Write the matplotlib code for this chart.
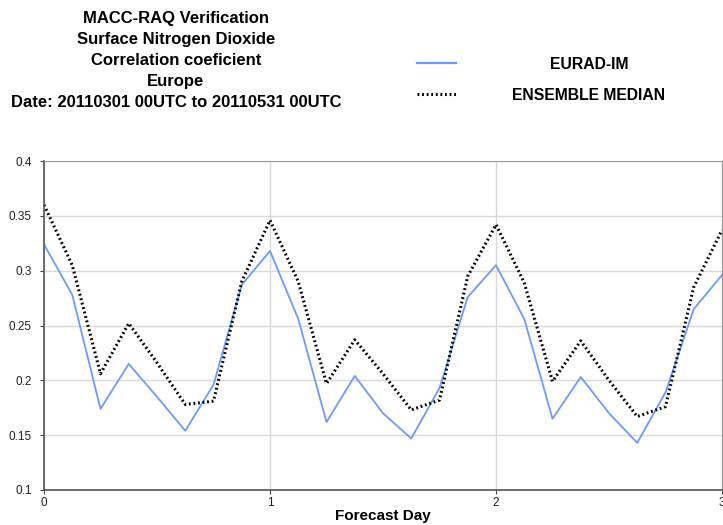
import numpy as np
import matplotlib
matplotlib.use("Agg")
import matplotlib.pyplot as plt
from matplotlib.lines import Line2D

plt.rcParams["font.family"] = ["Liberation Sans", "DejaVu Sans"]

# forecast day, every 3 hours
forecast_day = np.arange(25) * 0.125

eurad_im = [0.324, 0.278, 0.174, 0.215, 0.185, 0.154, 0.196, 0.287, 0.318,
            0.256, 0.162, 0.204, 0.170, 0.147, 0.193, 0.276, 0.305,
            0.256, 0.165, 0.203, 0.170, 0.143, 0.189, 0.265, 0.296]
ensemble_median = [0.360, 0.305, 0.206, 0.252, 0.216, 0.178, 0.181, 0.290, 0.346,
                   0.290, 0.197, 0.237, 0.206, 0.173, 0.182, 0.295, 0.342,
                   0.289, 0.199, 0.236, 0.200, 0.167, 0.176, 0.285, 0.337]

title_lines = ["MACC-RAQ Verification", "Surface Nitrogen Dioxide",
               "Correlation coeficient", "Europe",
               "Date: 20110301 00UTC to 20110531 00UTC"]
y_ticks = [0.1, 0.15, 0.2, 0.25, 0.3, 0.35, 0.4]
x_ticks = [0, 1, 2, 3]

BLUE = "#6b9bff"

fig = plt.figure(figsize=(7.23, 5.25), dpi=100)
ax = fig.add_axes([44 / 723, 1 - 490 / 525, 678 / 723, 329 / 525])

ax.plot(forecast_day, eurad_im, color=BLUE, lw=1.3)
ax.plot(forecast_day, ensemble_median, color="black", lw=2.2,
        linestyle=(0, (0.6, 0.9)))

ax.set_xlim(0, 3)
ax.set_ylim(0.1, 0.4)
ax.set_xticks(x_ticks)
ax.set_xticklabels([str(t) for t in x_ticks])
ax.set_yticks(y_ticks)
ax.set_yticklabels([f"{t:g}" for t in y_ticks])
ax.grid(True, color="#d9d9d9", lw=1)
ax.set_axisbelow(True)
ax.tick_params(labelsize=8.5, colors="#444444", length=3, width=0.8,
               labelcolor="#222222")
ax.tick_params(axis="y", pad=6)
ax.tick_params(axis="x", pad=2)
for side in ["left", "bottom"]:
    ax.spines[side].set_color("#555555")
    ax.spines[side].set_linewidth(1.2)
for side in ["top", "right"]:
    ax.spines[side].set_color("#999999")
ax.set_xlabel("Forecast Day", fontsize=11, fontweight="bold", labelpad=0)

for i, line in enumerate(title_lines):
    fig.text(176 / 723, 1 - (18 + i * 21.2) / 525, line, ha="center",
             va="center", fontsize=12, fontweight="bold")

# legend drawn by hand in figure coordinates
fig.add_artist(Line2D([417 / 723, 456 / 723], [1 - 63 / 525] * 2,
                      color=BLUE, lw=1.6))
fig.add_artist(Line2D([417 / 723, 456 / 723], [1 - 94 / 525] * 2,
                      color="black", lw=2.2, linestyle=(0, (0.6, 0.9))))
fig.text(589 / 723, 1 - 64 / 525, "EURAD-IM", ha="center", va="center",
         fontsize=11.3, fontweight="bold")
fig.text(589 / 723, 1 - 95 / 525, "ENSEMBLE MEDIAN", ha="center",
         va="center", fontsize=11.3, fontweight="bold")

fig.savefig("out.png", dpi=100)
